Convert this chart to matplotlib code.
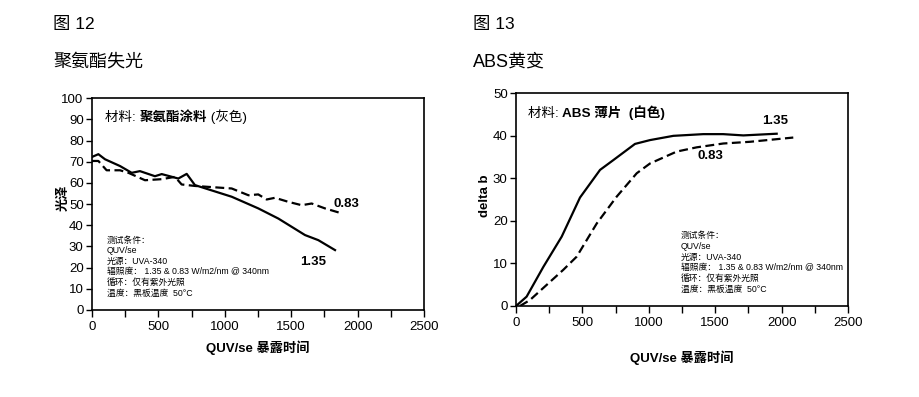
import matplotlib
matplotlib.use('Agg')
from matplotlib import pyplot as plt
from matplotlib.ticker import MultipleLocator

plt.rcParams['font.family'] = ['Liberation Sans', 'Noto Sans CJK SC']
plt.rcParams['axes.unicode_minus'] = False

# fig 12: polyurethane gloss loss
pu_x_135 = [0, 48, 98, 211, 299, 361, 474, 525, 650, 713, 775, 1052, 1252, 1403, 1604, 1704, 1830]
pu_y_135 = [72.3, 73.6, 71.2, 68, 64.8, 65.6, 63.2, 64.2, 62.1, 64.3, 59, 53.5, 48, 43.2, 35.4, 33, 28.3]
pu_x_083 = [0, 48, 110, 211, 274, 399, 525, 625, 675, 775, 1052, 1178, 1252, 1315, 1378, 1478, 1579, 1654, 1754, 1867]
pu_y_083 = [70.4, 70.4, 66, 66, 64.8, 61.3, 61.8, 62.9, 59.3, 58.6, 57.4, 54.2, 54.6, 52.2, 53, 51.1, 49.5, 50.3, 48, 45.9]

# fig 13: ABS yellowing
abs_x_135 = [0, 80, 206, 344, 482, 633, 733, 896, 1009, 1185, 1410, 1560, 1712, 1963]
abs_y_135 = [0, 2.2, 9.2, 16.3, 25.5, 32, 34.3, 38.1, 39, 40, 40.4, 40.4, 40.1, 40.5]
abs_x_083 = [30, 105, 356, 457, 608, 758, 909, 1009, 1210, 1361, 1561, 1762, 2088]
abs_y_083 = [0, 1.4, 8.5, 11.6, 19.4, 25.7, 31.2, 33.5, 36.3, 37.3, 38.2, 38.6, 39.6]

x_ticks = list(range(0, 2501, 250))
x_labels = [str(v) if v % 500 == 0 else '' for v in x_ticks]

cond_lines = ['测试条件：', 'QUV/se', '光源：UVA-340',
              '辐照度： 1.35 & 0.83 W/m2/nm @ 340nm',
              '循环：仅有紫外光照', '温度：黑板温度  50°C']

W, H = 920, 397
fig = plt.figure(figsize=(W / 100, H / 100), dpi=100)


def fx(px):
    return px / W


def fy(py):
    return 1 - py / H


def style_axes(ax, ymax, ystep):
    ax.set_xlim(0, 2500)
    ax.set_ylim(0, ymax)
    ax.set_xticks(x_ticks)
    ax.set_xticklabels(x_labels)
    ax.yaxis.set_major_locator(MultipleLocator(ystep))
    ax.tick_params(axis='both', direction='out', length=4, width=1, labelsize=9.5, pad=2)
    ax.tick_params(axis='x', length=5, pad=3)
    for s in ax.spines.values():
        s.set_linewidth(1.2)


def title_parts(ax, x, y, parts):
    prev = ax.text(x, y, parts[0][0], transform=ax.transAxes, fontsize=9.7,
                   fontweight=parts[0][1], va='baseline', ha='left')
    for txt, wt in parts[1:]:
        prev = ax.annotate(txt, xy=(1, 0), xycoords=prev, fontsize=9.7,
                           fontweight=wt, va='bottom', ha='left')


# ---- left chart
ax1 = fig.add_axes([fx(92), fy(310), fx(332), (310 - 98.3) / H])
ax1.plot(pu_x_135, pu_y_135, color='black', lw=1.6)
ax1.plot(pu_x_083, pu_y_083, color='black', lw=1.6, ls=(0, (4, 2)))
style_axes(ax1, 100, 10)
ax1.set_ylabel('光泽', fontsize=9.5, fontweight='bold')
ax1.yaxis.set_label_coords(-0.066, 0.53)
ax1.set_xlabel('QUV/se 暴露时间', fontsize=9.5, fontweight='bold', labelpad=5)
title_parts(ax1, 0.04, 0.895, [('材料: ', 'normal'), ('聚氨酯涂料', 'bold'), (' (灰色)', 'normal')])
ax1.text(1815, 50, '0.83', fontsize=9.5, fontweight='bold', ha='left', va='center')
ax1.text(1762, 22.8, '1.35', fontsize=9.5, fontweight='bold', ha='right', va='center')
for i, line in enumerate(cond_lines):
    ax1.text(0.045, 0.33 - i * 0.05, line, transform=ax1.transAxes, fontsize=6.3, va='center')

fig.text(fx(53), fy(25), '图 12', fontsize=12.5, va='center')
fig.text(fx(53), fy(62), '聚氨酯失光', fontsize=13, va='center')

# ---- right chart
ax2 = fig.add_axes([fx(516), fy(306), fx(332), (306 - 93.3) / H])
ax2.plot(abs_x_135, abs_y_135, color='black', lw=1.6)
ax2.plot(abs_x_083, abs_y_083, color='black', lw=1.6, ls=(0, (4, 2)))
style_axes(ax2, 50, 10)
ax2.set_ylabel('delta b', fontsize=9.5, fontweight='bold')
ax2.yaxis.set_label_coords(-0.075, 0.517)
ax2.set_xlabel('QUV/se 暴露时间', fontsize=9.5, fontweight='bold', labelpad=15)
title_parts(ax2, 0.035, 0.89, [('材料: ', 'normal'), ('ABS 薄片  (白色)', 'bold')])
ax2.text(1850, 43.4, '1.35', fontsize=9.5, fontweight='bold', ha='left', va='center')
ax2.text(1370, 35.2, '0.83', fontsize=9.5, fontweight='bold', ha='left', va='center')
for i, line in enumerate(cond_lines):
    ax2.text(0.497, 0.33 - i * 0.05, line, transform=ax2.transAxes, fontsize=6.3, va='center')

fig.text(fx(473), fy(25), '图 13', fontsize=12.5, va='center')
fig.text(fx(473), fy(62), 'ABS黄变', fontsize=13, va='center')

fig.savefig('out.png', dpi=100)
